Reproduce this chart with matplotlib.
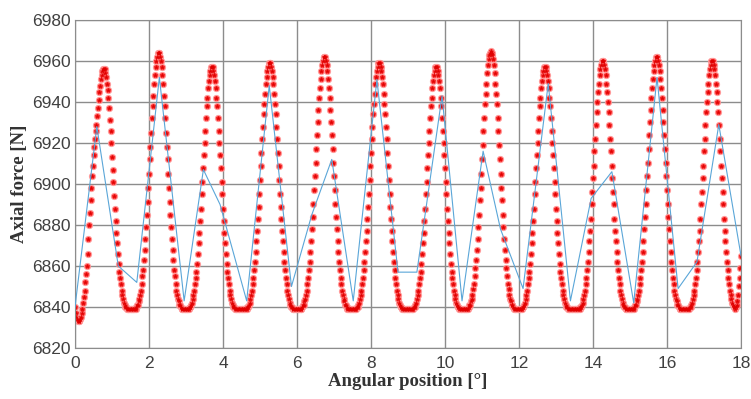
import numpy as np
import matplotlib

matplotlib.use("Agg")
import matplotlib.pyplot as plt

# ----- Data -----
# coarse series (thin blue line)
angle_coarse = [0.0, 0.59, 1.17, 1.67, 2.28, 2.95, 3.47, 3.92, 4.64, 5.25, 5.85,
                6.40, 6.94, 7.52, 8.16, 8.73, 9.24, 9.92, 10.46, 11.03, 11.50,
                12.11, 12.79, 13.39, 13.95, 14.51, 15.10, 15.73, 16.30, 16.81,
                17.40, 18.0]
force_coarse = [6840, 6928, 6860, 6852, 6952, 6843, 6907, 6890, 6843, 6948, 6850,
                6885, 6912, 6843, 6951, 6857, 6857, 6943, 6843, 6916, 6878,
                6849, 6949, 6843, 6893, 6906, 6842, 6952, 6849, 6862,
                6929, 6865]

# fine series (red stars), one value every 0.02 deg from 0 to 18 deg
force_fine = [
    # 0.00 - 0.78
    6840, 6837, 6835, 6834, 6833, 6833, 6833, 6834, 6835, 6837,
    6839, 6842, 6845, 6848, 6852, 6856, 6860, 6866, 6873, 6880,
    6886, 6892, 6898, 6904, 6909, 6914, 6918, 6922, 6926, 6929,
    6933, 6937, 6941, 6945, 6948, 6951, 6953, 6955, 6956, 6956,
    # -> 2.26
    6956, 6954, 6952, 6949, 6946, 6942, 6937, 6931, 6926, 6920, 6913, 6907, 6901, 6894, 6888, 6882,
    6876, 6871, 6866, 6861, 6857, 6854, 6851, 6848, 6846, 6844, 6842, 6841, 6840, 6840, 6839,
    *[6839] * 12,
    6840, 6841, 6841, 6843, 6844, 6846, 6848, 6851, 6855, 6858, 6863, 6868, 6873, 6879, 6885, 6891,
    6898, 6905, 6912, 6918, 6925, 6932, 6938, 6943, 6949, 6953, 6957, 6960, 6962, 6964, 6964,
    # -> 3.70
    6964, 6962, 6960, 6957, 6953, 6949, 6943, 6938, 6932, 6925, 6918, 6912, 6905, 6898, 6891, 6885,
    6879, 6873, 6868, 6863, 6858, 6855, 6851, 6848, 6846, 6844, 6843, 6841, 6841, 6840, 6839,
    *[6839] * 10,
    6840, 6840, 6841, 6842, 6844, 6846, 6848, 6851, 6854, 6857, 6861, 6866, 6871, 6876, 6882, 6888,
    6895, 6901, 6908, 6914, 6920, 6926, 6932, 6938, 6942, 6947, 6950, 6953, 6955, 6957, 6957,
    # -> 5.26
    6957, 6955, 6953, 6950, 6947, 6942, 6938, 6932, 6926, 6920, 6914, 6908, 6901, 6895, 6888, 6882,
    6876, 6871, 6866, 6861, 6857, 6854, 6851, 6848, 6846, 6844, 6842, 6841, 6840, 6840, 6839,
    *[6839] * 16,
    6840, 6840, 6841, 6842, 6844, 6846, 6848, 6851, 6854, 6858, 6862, 6867, 6872, 6877, 6883, 6889,
    6895, 6902, 6909, 6915, 6922, 6928, 6934, 6939, 6944, 6949, 6952, 6955, 6957, 6959, 6959,
    # -> 6.74
    6959, 6957, 6955, 6952, 6949, 6944, 6939, 6934, 6928, 6922, 6915, 6909, 6902, 6895, 6889, 6883,
    6877, 6872, 6867, 6862, 6858, 6854, 6851, 6848, 6846, 6844, 6842, 6841, 6840, 6840, 6839,
    *[6839] * 12,
    6840, 6841, 6841, 6843, 6844, 6846, 6848, 6851, 6854, 6858, 6862, 6867, 6872, 6878, 6884, 6890,
    6897, 6904, 6910, 6917, 6924, 6930, 6936, 6942, 6947, 6951, 6955, 6958, 6960, 6962, 6962,
    # -> 8.22
    6962, 6960, 6958, 6955, 6951, 6947, 6942, 6936, 6930, 6924, 6917, 6910, 6904, 6897, 6890, 6884,
    6878, 6872, 6867, 6862, 6858, 6854, 6851, 6848, 6846, 6844, 6843, 6841, 6841, 6840, 6839,
    *[6839] * 12,
    6840, 6840, 6841, 6842, 6844, 6846, 6848, 6851, 6854, 6858, 6862, 6867, 6872, 6877, 6883, 6889,
    6895, 6902, 6909, 6915, 6922, 6928, 6934, 6939, 6944, 6949, 6952, 6955, 6957, 6959, 6959,
    # -> 9.76
    6959, 6957, 6955, 6952, 6949, 6944, 6939, 6934, 6928, 6922, 6915, 6909, 6902, 6895, 6889, 6883,
    6877, 6872, 6867, 6862, 6858, 6854, 6851, 6848, 6846, 6844, 6842, 6841, 6840, 6840, 6839,
    *[6839] * 15,
    6840, 6840, 6841, 6842, 6844, 6846, 6848, 6851, 6854, 6857, 6861, 6866, 6871, 6876, 6882, 6888,
    6895, 6901, 6908, 6914, 6920, 6926, 6932, 6938, 6942, 6947, 6950, 6953, 6955, 6957, 6957,
    # -> 11.24
    6957, 6955, 6953, 6950, 6947, 6942, 6938, 6932, 6926, 6920, 6914, 6908, 6901, 6895, 6888, 6882,
    6876, 6871, 6866, 6861, 6857, 6854, 6851, 6848, 6846, 6844, 6842, 6841, 6840, 6840, 6839,
    *[6839] * 12,
    6840, 6841, 6841, 6843, 6844, 6846, 6849, 6851, 6855, 6859, 6863, 6868, 6873, 6879, 6885, 6892,
    6898, 6905, 6912, 6919, 6926, 6932, 6939, 6944, 6949, 6954, 6958, 6961, 6963, 6964, 6965,
    # -> 12.70
    6964, 6963, 6961, 6958, 6954, 6949, 6944, 6939, 6932, 6926, 6919, 6912, 6905, 6898, 6892, 6885,
    6879, 6873, 6868, 6863, 6859, 6855, 6851, 6849, 6846, 6844, 6843, 6841, 6841, 6840, 6839,
    *[6839] * 11,
    6840, 6840, 6841, 6842, 6844, 6846, 6848, 6851, 6854, 6857, 6861, 6866, 6871, 6876, 6882, 6888,
    6895, 6901, 6908, 6914, 6920, 6926, 6932, 6938, 6942, 6947, 6950, 6953, 6955, 6957, 6957,
    # -> 14.26
    6957, 6955, 6953, 6950, 6947, 6942, 6938, 6932, 6926, 6920, 6914, 6908, 6901, 6895, 6888, 6882,
    6876, 6871, 6866, 6861, 6857, 6854, 6851, 6848, 6846, 6844, 6842, 6841, 6840, 6840, 6839,
    *[6839] * 16,
    6840, 6840, 6841, 6842, 6844, 6846, 6848, 6851, 6854, 6858, 6862, 6867, 6872, 6877, 6883, 6890,
    6896, 6903, 6909, 6916, 6922, 6929, 6935, 6940, 6945, 6949, 6953, 6956, 6958, 6960, 6960,
    # -> 15.72
    6960, 6958, 6956, 6953, 6949, 6945, 6940, 6935, 6929, 6922, 6916, 6909, 6903, 6896, 6890, 6883,
    6877, 6872, 6867, 6862, 6858, 6854, 6851, 6848, 6846, 6844, 6842, 6841, 6840, 6840, 6839,
    *[6839] * 11,
    6840, 6841, 6841, 6843, 6844, 6846, 6848, 6851, 6854, 6858, 6862, 6867, 6872, 6878, 6884, 6890,
    6897, 6904, 6910, 6917, 6924, 6930, 6936, 6942, 6947, 6951, 6955, 6958, 6960, 6962, 6962,
    # -> 17.22
    6962, 6960, 6958, 6955, 6951, 6947, 6942, 6936, 6930, 6924, 6917, 6910, 6904, 6897, 6890, 6884,
    6878, 6872, 6867, 6862, 6858, 6854, 6851, 6848, 6846, 6844, 6843, 6841, 6841, 6840, 6839,
    *[6839] * 13,
    6840, 6840, 6841, 6842, 6844, 6846, 6848, 6851, 6854, 6858, 6862, 6867, 6872, 6877, 6883, 6890,
    6896, 6903, 6909, 6916, 6922, 6929, 6935, 6940, 6945, 6949, 6953, 6956, 6958, 6960, 6960,
    # -> 18.00
    6960, 6958, 6956, 6953, 6949, 6945, 6940, 6935, 6929, 6922, 6916, 6909, 6903, 6896, 6890, 6883,
    6877, 6872, 6867, 6862, 6858, 6854, 6851, 6848, 6846, 6844, 6842, 6841, 6840, 6840, 6839,
    6840, 6841, 6843, 6846, 6850, 6854, 6859, 6865,
]
angle_fine = np.linspace(0, 18, len(force_fine))

x_ticks = list(range(0, 19, 2))
y_ticks = list(range(6820, 6981, 20))

# ----- Figure -----
fig = plt.figure(figsize=(7.51, 3.99), dpi=100)
ax = fig.add_axes([75 / 751, 1 - 348 / 399, 666 / 751, 328 / 399])

# red stars: a soft pink halo with a red core, like the blurred original
ax.plot(angle_fine, force_fine, linestyle="none", marker="o", markersize=4.6,
        markerfacecolor="#ff4a4a", markeredgecolor="#ffa0a0", markeredgewidth=0.6,
        zorder=2)
ax.plot(angle_fine, force_fine, linestyle="none", marker="*", markersize=3.2,
        color="#e00000", markeredgewidth=0.3, zorder=2.1)
ax.plot(angle_coarse, force_coarse, color="#5aa6d8", lw=0.8, zorder=3)

ax.set_xlim(0, 18)
ax.set_ylim(6820, 6980)
ax.set_xticks(x_ticks)
ax.set_yticks(y_ticks)
ax.grid(True, color="#8c8c8c", lw=1.0)
ax.set_axisbelow(True)
for s in ax.spines.values():
    s.set_color("#8c8c8c")

for lab in ax.get_xticklabels() + ax.get_yticklabels():
    lab.set_fontfamily("Liberation Sans")
    lab.set_fontsize(12.5)
ax.tick_params(length=0, labelcolor="#404040")
ax.tick_params(axis="x", pad=6)
ax.tick_params(axis="y", pad=3)

label_font = {"family": "Liberation Serif", "weight": "bold", "size": 13.5, "color": "#333333"}
ax.set_xlabel("Angular position [°]", fontdict=label_font, labelpad=1)
ax.set_ylabel("Axial force [N]", fontdict=label_font, labelpad=3)

fig.savefig("out.png", dpi=100)
